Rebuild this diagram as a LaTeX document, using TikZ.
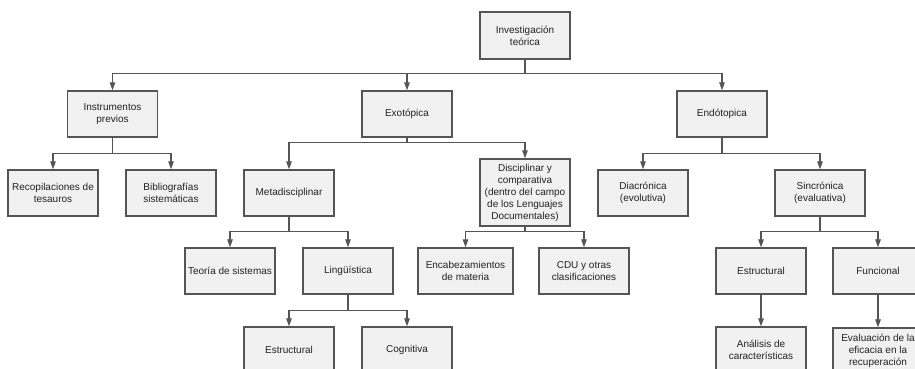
\documentclass[tikz,border=0pt]{standalone}
\usepackage{fontspec}
\setmainfont{Liberation Sans}
\usetikzlibrary{arrows.meta}
\definecolor{boxfill}{HTML}{F1F1F1}
\definecolor{boxline}{HTML}{555555}
\definecolor{wire}{HTML}{555555}
\definecolor{txt}{HTML}{222222}
\tikzset{
  box/.style={draw=boxline, line width=1.3pt, fill=boxfill, minimum width=90pt, minimum height=46pt,
    inner sep=1pt, align=center, text=txt, font=\fontsize{10}{12}\selectfont},
  arr/.style={draw=wire, line width=1.1pt, -{Triangle[length=8pt,width=5.5pt]}},
}
\begin{document}
\begin{tikzpicture}[x=1pt,y=-1pt]
\path[use as bounding box, clip] (0,0) rectangle (915,369);
\fill[white] (0,0) rectangle (915,369);
% level 0
\node[box, minimum height=47pt] (inv) at (525,35.5) {Investigación\\teórica};
% level 1
\node[box] (ins) at (112.5,114) {Instrumentos\\previos};
\node[box] (exo) at (407,114) {Exotópica};
\node[box] (endo) at (722,114) {Endótopica};
% level 2
\node[box] (rec) at (53,193) {Recopilaciones de\\tesauros};
\node[box] (bib) at (171,193) {Bibliografías\\sistemáticas};
\node[box] (meta) at (289,193) {Metadisciplinar};
\node[box, minimum height=67pt] (disc) at (525,192.5) {Disciplinar y\\comparativa\\(dentro del campo\\de los Lenguajes\\Documentales)};
\node[box] (dia) at (643,193) {Diacrónica\\(evolutiva)};
\node[box] (sin) at (820,193) {Sincrónica\\(evaluativa)};
% level 3
\node[box] (teo) at (230,271) {Teoría de sistemas};
\node[box] (ling) at (348,271) {Lingüística};
\node[box, minimum width=95pt] (enc) at (465.5,271) {Encabezamientos\\de materia};
\node[box] (cdu) at (584,271) {CDU y otras\\clasificaciones};
\node[box] (est2) at (761,271) {Estructural};
\node[box] (fun) at (878,271) {Funcional};
% level 4
\node[box] (est1) at (289,350) {Estructural};
\node[box] (cog) at (407,350) {Cognitiva};
\node[box] (ana) at (761,350) {Análisis de\\características};
\node[box] (eva) at (878,351) {Evaluación de la\\eficacia en la\\recuperación};
% connectors
\foreach \c in {ins,exo,endo} \draw[arr] (inv.south) -- ++(0,14) -| (\c.north);
\foreach \c in {rec,bib} \draw[arr] (ins.south) -- ++(0,16) -| (\c.north);
\foreach \c in {meta,disc} \draw[arr] (exo.south) -- ++(0,5) -| (\c.north);
\foreach \c in {dia,sin} \draw[arr] (endo.south) -- ++(0,16) -| (\c.north);
\foreach \c in {teo,ling} \draw[arr] (meta.south) -- ++(0,15) -| (\c.north);
\foreach \c in {enc,cdu} \draw[arr] (disc.south) -- ++(0,5) -| (\c.north);
\foreach \c in {est2,fun} \draw[arr] (sin.south) -- ++(0,15) -| (\c.north);
\foreach \c in {est1,cog} \draw[arr] (ling.south) -- ++(0,16) -| (\c.north);
\draw[arr] (est2.south) -- (ana.north);
\draw[arr] (fun.south) -- (eva.north);
\end{tikzpicture}
\end{document}
